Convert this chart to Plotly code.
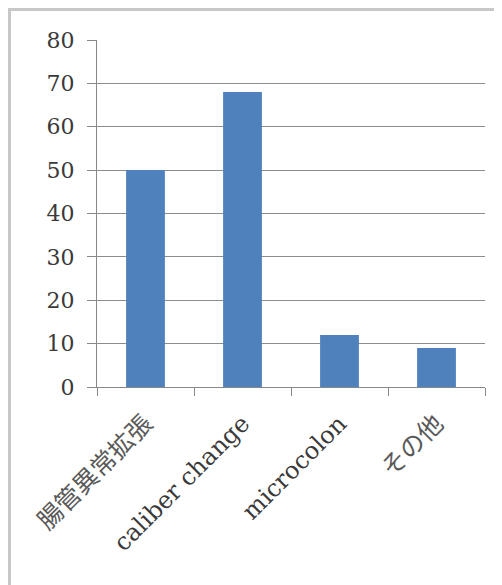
import plotly.graph_objects as go

categories = ["腸管異常拡張", "caliber change", "microcolon", "その他"]
values = [50, 68, 12, 9]
y_ticks = [0, 10, 20, 30, 40, 50, 60, 70, 80]

# page has an 8px body margin, so the figure is drawn at (8, 8)
OFF = 8
W, H = 502 - OFF, 585 - OFF
L, R, T, B = 97 - OFF, 17, 40 - OFF, 198
pw, ph = W - L - R, H - T - B

def px_to_paper_x(x):
    return (x - OFF - L) / pw

def px_to_paper_y(y):
    return (H - B - (y - OFF)) / ph

def label(c):
    if any(ord(ch) > 0x2E80 for ch in c):
        return '<span style="font-size:25px;fill:#5a5a5a">' + c + '</span>'
    return c

fig = go.Figure()
fig.add_trace(go.Bar(
    x=categories, y=values, width=0.4,
    marker=dict(color="#4f81bd", line=dict(width=0)),
))

font_fam = "DejaVu Serif, Liberation Serif, Noto Sans CJK JP, serif"

fig.update_layout(
    width=W, height=H,
    margin=dict(l=L, r=R, t=T, b=B),
    paper_bgcolor="white", plot_bgcolor="white",
    showlegend=False,
    font=dict(family=font_fam, size=22, color="#3a3a3a"),
    xaxis=dict(
        type="category",
        tickmode="array",
        tickvals=categories,
        ticktext=[label(c) for c in categories],
        tickangle=-45,
        tickson="boundaries",
        ticks="outside", ticklen=8, tickcolor="#888888", tickwidth=1,
        showline=True, linecolor="#888888", linewidth=1,
        showgrid=False,
        ticklabelstandoff=12,
        tickfont=dict(family=font_fam, size=24, color="#3a3a3a"),
    ),
    yaxis=dict(
        range=[0, 80],
        tickvals=y_ticks,
        ticks="outside", ticklen=9, tickcolor="#888888", tickwidth=1,
        showline=True, linecolor="#888888", linewidth=1,
        showgrid=True, gridcolor="#8c8c8c", gridwidth=1,
        zeroline=False,
        ticklabelstandoff=8,
        tickfont=dict(family=font_fam, size=22, color="#3a3a3a"),
    ),
    shapes=[dict(
        type="rect", xref="paper", yref="paper",
        x0=px_to_paper_x(9.5), x1=px_to_paper_x(500.5),
        y0=px_to_paper_y(600), y1=px_to_paper_y(9.5),
        line=dict(color="#c8c8c8", width=3), fillcolor="rgba(0,0,0,0)",
        layer="below",
    )],
)

fig.write_html("out.html")
